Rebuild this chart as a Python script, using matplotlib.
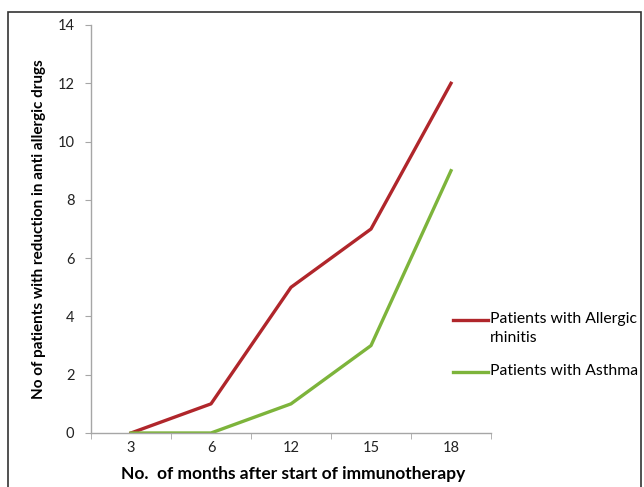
import matplotlib
matplotlib.use("Agg")
import matplotlib.pyplot as plt
from matplotlib.patches import Rectangle
from matplotlib.lines import Line2D

months = ["3", "6", "12", "15", "18"]
rhinitis = [0, 1, 5, 7, 12]
asthma = [0, 0, 1, 3, 9]
y_ticks = [0, 2, 4, 6, 8, 10, 12, 14]
series_names = ['Patients with Allergic\nrhinitis', 'Patients with Asthma']

plt.rcParams['font.family'] = ['Lato', 'DejaVu Sans']

fig = plt.figure(figsize=(6.44, 4.87), dpi=100)
W, H = 644, 487
ax = fig.add_axes([91 / W, 1 - 433 / H, (491 - 91) / W, (433 - 25) / H])

x = list(range(len(months)))
red = '#B0262B'
green = '#7DB43B'
ax.plot(x, rhinitis, color=red, lw=2.4)
ax.plot(x, asthma, color=green, lw=2.4)

ax.set_xlim(-0.5, len(months) - 0.5)
ax.set_ylim(0, 14)
ax.set_yticks(y_ticks)
ax.set_xticks(x)
ax.set_xticklabels(months)
ax.set_xticks([i - 0.5 for i in range(len(months) + 1)], minor=True)
ax.tick_params(axis='x', which='major', length=0, pad=6, labelsize=10.5,
               labelcolor='#222222')
ax.tick_params(axis='x', which='minor', length=4, color='#A6A6A6', direction='out')
ax.tick_params(axis='y', length=4, color='#A6A6A6', labelsize=10.5, pad=8,
               labelcolor='#222222')
for s in ['top', 'right']:
    ax.spines[s].set_visible(False)
for s in ['left', 'bottom']:
    ax.spines[s].set_color('#A6A6A6')
    ax.spines[s].set_linewidth(1.0)

fig.text(293 / W, 1 - 474 / H, 'No.  of months after start of immunotherapy',
         fontsize=12.5, fontweight='bold', ha='center', va='center')
fig.text(39 / W, 1 - 229 / H, 'No of patients with reduction in anti allergic drugs',
         fontsize=11, fontweight='bold', ha='center', va='center', rotation=90)

# legend (handle aligned with first text line, as in the reference)
for name, col, yy in zip(series_names, [red, green], [320, 372]):
    fig.lines.append(Line2D([453 / W, 488 / W], [1 - yy / H, 1 - yy / H],
                            transform=fig.transFigure, color=col, lw=2.4))
    fig.text(490 / W, 1 - (yy - 8) / H, name, fontsize=11.3, ha='left',
             va='top', linespacing=1.5)

fig.patches.append(Rectangle((8 / W, -0.1), (641 - 8) / W, 1 - 12 / H + 0.1,
                             transform=fig.transFigure, fill=False,
                             edgecolor='#333333', lw=1.2))

fig.savefig('out.png', dpi=100)
